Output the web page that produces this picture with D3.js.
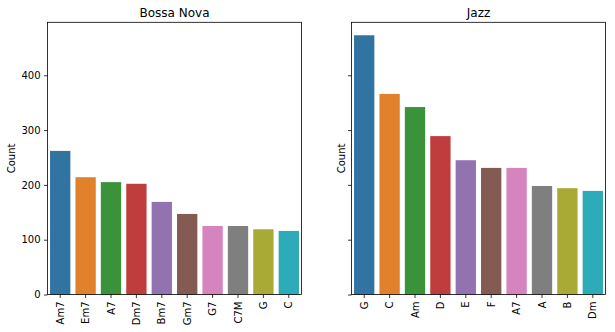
<!DOCTYPE html>
<html>
<head>
<meta charset="utf-8">
<script src="https://cdn.jsdelivr.net/npm/d3@7"></script>
<style>
  html, body { margin: 0; padding: 0; background: #fff; }
  svg { display: block; font-family: "DejaVu Sans", sans-serif; }
</style>
</head>
<body>
<svg id="chart" width="615" height="332"></svg>
<script>
// Chord counts per genre
const bossaChords = ["Am7", "Em7", "A7", "Dm7", "Bm7", "Gm7", "G7", "C7M", "G", "C"];
const bossaCounts = [262, 214, 205, 202, 169, 147, 125, 125, 119, 116];
const jazzChords = ["G", "C", "Am", "D", "E", "F", "A7", "A", "B", "Dm"];
const jazzCounts = [473, 366, 342, 289, 245, 231, 231, 198, 194, 189];
const yTicks = [0, 100, 200, 300, 400];
const palette = ["#3274a1", "#e1812c", "#3a923a", "#c03d3e", "#9372b2",
                 "#845b53", "#d684bd", "#7f7f7f", "#a9aa35", "#2eabb8"];

const svg = d3.select("#chart");
const plotTop = 22.3, plotBottom = 294.5;
const yMax = d3.max(jazzCounts.concat(bossaCounts)) * 1.05;
const y = d3.scaleLinear().domain([0, yMax]).range([plotBottom, plotTop]);

const panels = [
  { title: "Bossa Nova", cats: bossaChords, vals: bossaCounts, left: 47.5, right: 301.5, labels: true, ylabX: 15 },
  { title: "Jazz", cats: jazzChords, vals: jazzCounts, left: 351.5, right: 605.5, labels: false, ylabX: 345 }
];

panels.forEach(p => {
  const x = d3.scaleBand().domain(p.cats).range([p.left, p.right]).paddingInner(0.2).paddingOuter(0.1);
  const g = svg.append("g");

  g.selectAll("rect.bar")
    .data(p.cats.map((c, i) => ({ c, v: p.vals[i], i })))
    .join("rect")
    .attr("class", "bar")
    .attr("x", d => x(d.c))
    .attr("width", x.bandwidth())
    .attr("y", d => y(d.v))
    .attr("height", d => y(0) - y(d.v))
    .attr("fill", d => palette[d.i]);

  // y axis
  const ya = g.append("g")
    .attr("transform", `translate(${p.left},0)`)
    .call(d3.axisLeft(y).tickValues(yTicks).tickSize(3.5).tickSizeOuter(0).tickPadding(3.5)
      .tickFormat(p.labels ? d3.format("d") : () => ""));
  ya.select(".domain").remove();
  ya.selectAll(".tick line").attr("stroke", "#000").attr("stroke-width", 0.8);
  ya.selectAll(".tick text").attr("font-size", 10).attr("fill", "#000")
    .attr("font-family", "DejaVu Sans, sans-serif");

  // x axis
  const xa = g.append("g")
    .attr("transform", `translate(0,${plotBottom})`)
    .call(d3.axisBottom(x).tickSize(3.5).tickSizeOuter(0).tickPadding(3.5));
  xa.select(".domain").remove();
  xa.selectAll(".tick line").attr("stroke", "#000").attr("stroke-width", 0.8);
  xa.selectAll(".tick text")
    .attr("font-size", 10).attr("fill", "#000")
    .attr("font-family", "DejaVu Sans, sans-serif")
    .attr("y", 0).attr("dy", "0.35em")
    .attr("text-anchor", "end")
    .attr("transform", "translate(0,7) rotate(-90)");

  // frame
  g.append("rect")
    .attr("x", p.left).attr("y", plotTop)
    .attr("width", p.right - p.left).attr("height", plotBottom - plotTop)
    .attr("fill", "none").attr("stroke", "#000").attr("stroke-width", 0.8);

  // title
  g.append("text")
    .attr("x", (p.left + p.right) / 2).attr("y", 17)
    .attr("text-anchor", "middle").attr("font-size", 12).attr("fill", "#000")
    .text(p.title);

  // y label
  g.append("text")
    .attr("transform", `translate(${p.ylabX},${(plotTop + plotBottom) / 2}) rotate(-90)`)
    .attr("text-anchor", "middle").attr("font-size", 10).attr("fill", "#000")
    .text("Count");
});
</script>
</body>
</html>
